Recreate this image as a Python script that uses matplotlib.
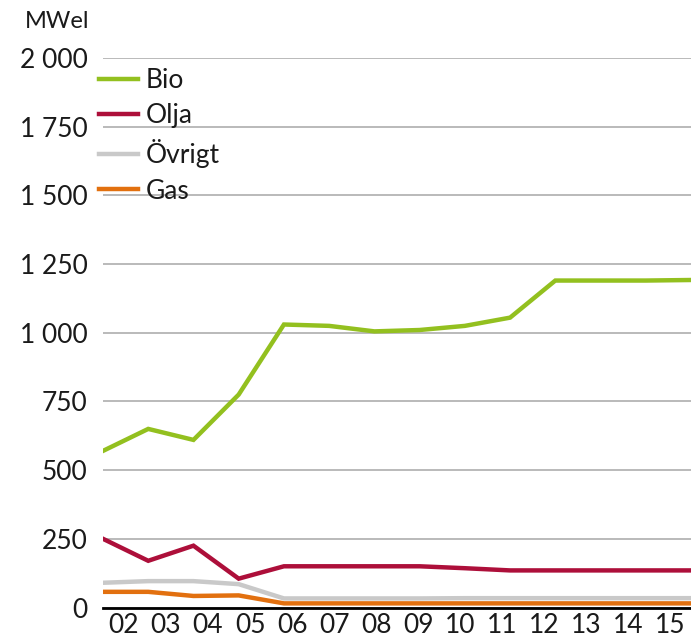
import matplotlib
matplotlib.use("Agg")
import matplotlib.pyplot as plt
import numpy as np

plt.rcParams['font.family'] = ['Lato', 'DejaVu Sans']

# Data (MWel per year)
years = ['02', '03', '04', '05', '06', '07', '08', '09', '10', '11', '12', '13', '14', '15']
bio = [570, 650, 610, 775, 1030, 1025, 1005, 1010, 1025, 1055, 1190, 1190, 1190, 1192]
olja = [250, 170, 225, 105, 150, 150, 150, 150, 143, 135, 135, 135, 135, 135]
ovrigt = [90, 96, 96, 85, 33, 33, 33, 33, 34, 34, 34, 34, 34, 34]
gas = [57, 57, 42, 44, 15, 15, 15, 15, 15, 15, 15, 15, 15, 15]
yticks = [0, 250, 500, 750, 1000, 1250, 1500, 1750, 2000]
ylabels = ['0', '250', '500', '750', '1 000', '1 250', '1 500', '1 750', '2 000']

series = [('Bio', bio, '#93c01f'),
          ('Olja', olja, '#ad0f3a'),
          ('Övrigt', ovrigt, '#c9c9c9'),
          ('Gas', gas, '#e2700f')]

fig = plt.figure(figsize=(6.91, 6.40), dpi=100)
ax = fig.add_axes([103 / 691, 32.5 / 640, 588 / 691, 549.5 / 640])

x = np.arange(len(years))
for name, vals, col in series:
    ax.plot(x, vals, color=col, lw=3.2, label=name, solid_joinstyle='miter', zorder=3)

ax.set_xlim(0, len(years) - 1)
ax.set_ylim(0, 2000)

# category labels sit in the middle of equal bands across the axis
n = len(years)
ax.set_xticks([(i + 0.5) * (n - 1) / n for i in range(n)])
ax.set_xticklabels(years)
ax.set_yticks(yticks)
ax.set_yticklabels(ylabels)
ax.tick_params(axis='both', length=0, labelsize=19, colors='#1a1a1a')
ax.tick_params(axis='y', pad=11)
ax.tick_params(axis='x', pad=4)

ax.grid(axis='y', color='#b4b4b4', lw=1.3, zorder=1)
for s in ['top', 'right', 'left']:
    ax.spines[s].set_visible(False)
ax.spines['bottom'].set_color('black')
ax.spines['bottom'].set_linewidth(2)
ax.spines['bottom'].set_zorder(4)

fig.text(25 / 691, 1 - 22 / 640, 'MWel', fontsize=17, color='#1a1a1a', va='center', ha='left')

ax.legend(loc='upper left', bbox_to_anchor=(-0.006, 0.982), frameon=False, fontsize=19,
          handlelength=1.45, handletextpad=0.3, labelspacing=0.4, borderpad=0,
          borderaxespad=0, labelcolor='#1a1a1a')

fig.savefig('out.png', dpi=100)
